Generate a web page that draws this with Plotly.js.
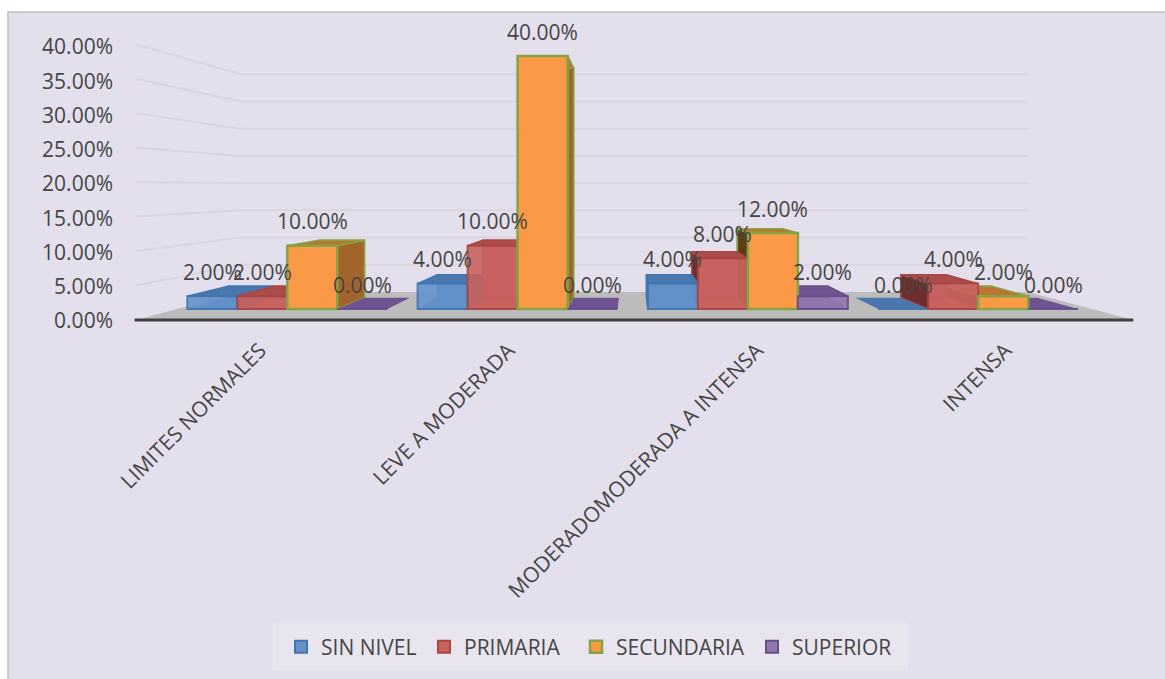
<!DOCTYPE html>
<html>
<head>
<meta charset="utf-8">
<script src="https://cdn.plot.ly/plotly-3.0.1.min.js"></script>
<style>html,body{margin:0;padding:0;background:#fff;overflow:hidden}</style>
</head>
<body>
<div id="chart" style="width:1165px;height:679px"></div>
<script>
// Values per education level, in percent
const categories = ["LIMITES NORMALES", "LEVE A MODERADA", "MODERADOMODERADA A INTENSA", "INTENSA"];
const sinNivel   = [2, 4, 4, 0];
const primaria   = [2, 10, 8, 4];
const secundaria = [10, 40, 12, 2];
const superior   = [0, 0, 2, 0];
const seriesNames = ["SIN NIVEL", "PRIMARIA", "SECUNDARIA", "SUPERIOR"];
const axisValues = [0, 5, 10, 15, 20, 25, 30, 35, 40];

const W = 1165, H = 679;
const pct = v => v.toFixed(2) + "%";

// Colours for each face of the boxes
const faces = [
  {front:"#6493cc", edge:"#4175b0", top:"#4a78ad", right:"#3f6590", left:"#3a5f8a", back:"#5687c0"},
  {front:"#c96361", edge:"#a84644", top:"#ab4c4b", right:"#8e3b3a", left:"#6e2e2d", back:"#bd5a58"},
  {front:"#fb9a46", edge:"#84a343", top:"#bd7430", right:"#a3642c", left:"#5e3d12", back:"#e08a40"},
  {front:"#9176b0", edge:"#674d8a", top:"#6e5390", right:"#5a4478", left:"#5a4478", back:"#8369a5"}
];
const seriesValues = [sinNivel, primaria, secundaria, superior];

// Axis scales: one category = 230.3 px, one percent = 6.32 px on the plane of the bars
const pxPerCat = 230.3, pxPerPct = 6.32;
const x0px = 287.3, y0px = 308.9;
const xRange = [-x0px / pxPerCat, (W - x0px) / pxPerCat];
const yRange = [(y0px - H) / pxPerPct, y0px / pxPerPct];

// Perspective around a vanishing point; k is the depth scale (1 = plane of the bars)
const vanishU = 1.5, vanishV = 19.26;
const K_NEAR = 1.091, K_WALL = 0.861, K_BACK = 0.908, K_LABEL = 1.079;
const project = (u, v, k) => [vanishU + (u - vanishU) * k, vanishV + (v - vanishV) * k];

const wallLeft = -0.478, wallRight = 3.492;
const barW = 50 / pxPerCat;

function poly(points, fill, line, lineWidth, closed) {
  const pts = closed === false ? points : points.concat([points[0]]);
  return {
    type: "scatter", mode: "lines", xaxis: "x", yaxis: "y",
    x: pts.map(p => p[0]), y: pts.map(p => p[1]),
    fill: fill ? "toself" : "none", fillcolor: fill || undefined,
    line: {color: line || "rgba(0,0,0,0)", width: lineWidth === undefined ? 1 : lineWidth},
    hoverinfo: "skip", showlegend: false
  };
}

const traces = [];

// Floor
traces.push(poly([
  project(wallLeft, 0, K_NEAR), project(wallRight, 0, K_NEAR),
  project(wallRight, 0, K_WALL), project(wallLeft, 0, K_WALL)
], "#bcbcbc"));

// Side wall and back wall gridlines
axisValues.filter(v => v > 0).forEach(v => {
  traces.push(poly([
    project(wallLeft, v, K_NEAR), project(wallLeft, v, K_WALL), project(wallRight, v, K_WALL)
  ], null, "#d9d6de", 2, false));
});

// Front edge of the floor
traces.push(poly([project(wallLeft - 0.005, 0, K_NEAR), project(wallRight, 0, K_NEAR)], null, "#404040", 3, false));

// Box faces behind the fronts, outermost boxes first so nearer ones cover them
const boxes = [];
categories.forEach((c, i) => seriesValues.forEach((vals, s) => {
  boxes.push({i, s, v: vals[i], u: i + (s - 1.5) * barW});
}));
boxes.sort((a, b) => {
  if (a.i !== b.i) return a.i - b.i;
  return Math.abs(b.u - vanishU) - Math.abs(a.u - vanishU);
});

boxes.forEach(b => {
  const f = faces[b.s];
  const l = b.u - barW / 2, r = b.u + barW / 2, v = b.v;
  if (v === 0) {
    traces.push(poly([project(l, 0, 1), project(r, 0, 1), project(r, 0, K_BACK), project(l, 0, K_BACK)], f.top));
    return;
  }
  // inner faces, seen through the translucent fronts
  traces.push(poly([project(l, 0, 1), project(r, 0, 1), project(r, 0, K_BACK), project(l, 0, K_BACK)], f.back, f.edge, 1));
  traces.push(poly([project(l, 0, K_BACK), project(r, 0, K_BACK), project(r, v, K_BACK), project(l, v, K_BACK)], f.back, f.edge, 1.5));
  // outer side face, toward the vanishing point
  const sideU = r < vanishU ? r : l;
  const sideColor = r < vanishU ? f.right : f.left;
  traces.push(poly([project(sideU, 0, 1), project(sideU, v, 1), project(sideU, v, K_BACK), project(sideU, 0, K_BACK)], sideColor, f.edge, 1.5));
  // top face
  traces.push(poly([project(l, v, 1), project(r, v, 1), project(r, v, K_BACK), project(l, v, K_BACK)], f.top, f.edge, 1.5));
});

// Fronts of the boxes, on an overlaid subplot so they sit above every other face
const legendIds = ["legend", "legend2", "legend3", "legend4"];
seriesValues.forEach((vals, s) => {
  traces.push({
    type: "bar", name: seriesNames[s], xaxis: "x2", yaxis: "y2", legend: legendIds[s],
    x: categories.map((c, i) => i), y: vals,
    marker: {color: faces[s].front, opacity: s === 2 ? 1 : 0.9, line: {color: faces[s].edge, width: s === 2 ? 2.5 : 2}},
    hoverinfo: "skip", cliponaxis: false
  });
});

// Value labels float above each box
const annotations = [];
seriesValues.forEach((vals, s) => vals.forEach((v, i) => {
  annotations.push({
    xref: "x2", yref: "y2", x: i + (s - 1.5) * barW, y: v, yshift: 24.3,
    text: pct(v), showarrow: false, xanchor: "center", yanchor: "middle",
    font: {family: "Open Sans", size: 21, color: "#454545"}
  });
}));

// One legend per series so each entry keeps its own spot in the panel
const legendBase = {
  orientation: "h", xanchor: "left", y: (H - 647) / H, yanchor: "middle",
  bgcolor: "rgba(0,0,0,0)", borderwidth: 0,
  font: {family: "Open Sans", size: 21, color: "#454545"},
  itemclick: false, itemdoubleclick: false
};
const legendLeft = [281, 424, 576, 752];

const layout = {
  width: W, height: H, autosize: false,
  margin: {l: 0, r: 0, t: 0, b: 0},
  paper_bgcolor: "#ffffff", plot_bgcolor: "rgba(0,0,0,0)",
  barmode: "group", bargap: 1 - 200 / pxPerCat, bargroupgap: 0,
  showlegend: true,
  legend:  Object.assign({}, legendBase, {x: legendLeft[0] / W}),
  legend2: Object.assign({}, legendBase, {x: legendLeft[1] / W}),
  legend3: Object.assign({}, legendBase, {x: legendLeft[2] / W}),
  legend4: Object.assign({}, legendBase, {x: legendLeft[3] / W}),
  xaxis: {
    domain: [0, 1], range: xRange, type: "linear", fixedrange: true,
    anchor: "free", position: (H - 333) / H,
    tickmode: "array",
    tickvals: categories.map((c, i) => project(i, 0, K_LABEL)[0]),
    ticktext: categories, tickangle: -45, ticklen: 0,
    showgrid: false, zeroline: false, showline: false,
    tickfont: {family: "Open Sans", size: 21.2, color: "#454545"}
  },
  yaxis: {
    domain: [0, 1], range: yRange, type: "linear", fixedrange: true,
    anchor: "free", position: 113 / W,
    tickmode: "array",
    tickvals: axisValues.map(v => project(0, 0, K_NEAR)[1] - 0.15 + v * 6.85 / pxPerPct),
    ticktext: axisValues.map(pct), ticklen: 0,
    showgrid: false, zeroline: false, showline: false,
    tickfont: {family: "Open Sans", size: 21, color: "#454545"}
  },
  xaxis2: {overlaying: "x", domain: [0, 1], range: xRange, visible: false, fixedrange: true, anchor: "y2"},
  yaxis2: {overlaying: "y", domain: [0, 1], range: yRange, visible: false, fixedrange: true, anchor: "x2"},
  shapes: [
    // chart area
    {type: "rect", xref: "paper", yref: "paper", layer: "below",
     x0: 8 / W, x1: 1 + 2 / W, y0: -2 / H, y1: (H - 12) / H,
     fillcolor: "#e4dfec", line: {color: "#bfbfbf", width: 1.5}},
    // legend panel
    {type: "rect", xref: "paper", yref: "paper", layer: "below",
     x0: 273 / W, x1: 908 / W, y0: (H - 670) / H, y1: (H - 623) / H,
     fillcolor: "#e8e5ef", line: {width: 0}}
  ],
  annotations
};

Plotly.newPlot("chart", traces, layout, {displayModeBar: false, staticPlot: true});
</script>
</body>
</html>
